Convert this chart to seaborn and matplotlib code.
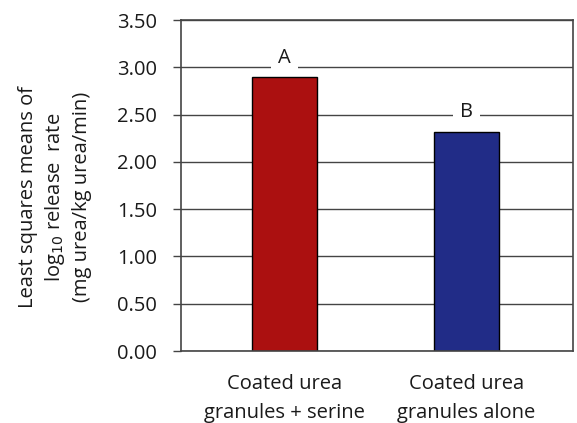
import matplotlib
matplotlib.use("Agg")
import matplotlib.pyplot as plt
import seaborn as sns
import pandas as pd

categories = ["Coated urea\ngranules + serine", "Coated urea\ngranules alone"]
means = [2.90, 2.32]
letters = ["A", "B"]
bar_colors = ["#AB1010", "#212C87"]
yticks = [0.0, 0.5, 1.0, 1.5, 2.0, 2.5, 3.0, 3.5]

df = pd.DataFrame({"Treatment": categories, "Mean": means})

sns.set_style("white")
plt.rcParams["font.family"] = ["Open Sans", "DejaVu Sans"]
plt.rcParams["axes.axisbelow"] = True

fig = plt.figure(figsize=(5.77, 4.23), dpi=100)
ax = fig.add_axes([181 / 577, 1 - 351 / 423, 392 / 577, 331 / 423])

sns.barplot(ax=ax, data=df, x="Treatment", y="Mean", hue="Treatment",
            palette=bar_colors, width=0.357, edgecolor="black",
            linewidth=1.0, legend=False, saturation=1)

# significance letters sit on a white patch that breaks the gridline
for i, (m, lab) in enumerate(zip(means, letters)):
    ax.text(i, m + 0.15, lab, ha="center", va="baseline", fontsize=14.5,
            color="#1a1a1a", zorder=5,
            bbox=dict(boxstyle="square,pad=0.35", fc="white", ec="none"))

ax.set_xlim(-0.569, 1.585)
ax.set_ylim(0, 3.5)
ax.set_yticks(yticks)
ax.set_yticklabels([f"{v:.2f}" for v in yticks], fontsize=14.5)
ax.yaxis.grid(True, color="#444444", linewidth=1.0)
ax.tick_params(axis="y", direction="out", length=5.8, width=1, color="#444444",
               left=True, pad=11.5, labelcolor="#1a1a1a")
ax.tick_params(axis="x", length=0, pad=16.5, labelsize=14.5, labelcolor="#1a1a1a")
for t in ax.get_xticklabels():
    t.set_linespacing(1.6)
for s in ax.spines.values():
    s.set_color("#444444")
    s.set_linewidth(1.2)

ax.set_xlabel("")
ax.set_ylabel("Least squares means of\nlog$_{10}$ release  rate\n(mg urea/kg urea/min)",
              fontsize=14.5, color="#1a1a1a", linespacing=1.3, va="center")
ax.yaxis.set_label_coords(-0.321, 0.465)

fig.savefig("out.png", dpi=100)
